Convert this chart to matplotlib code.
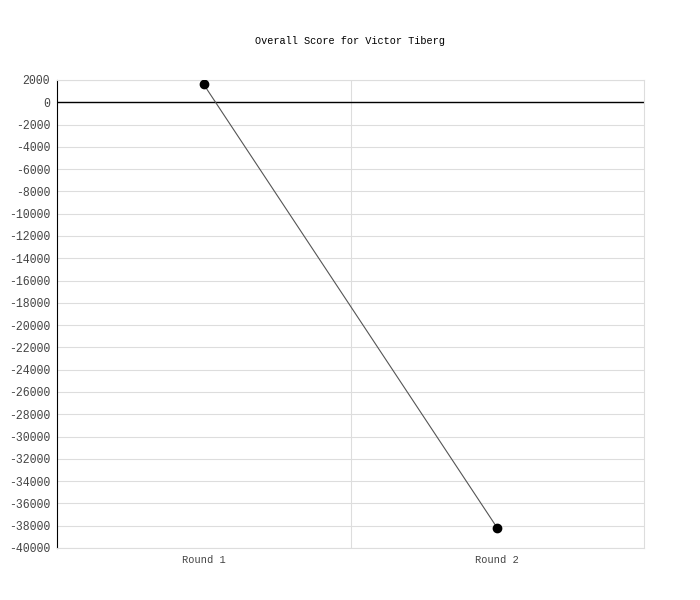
import matplotlib
matplotlib.use("Agg")
import matplotlib.pyplot as plt

# Data
rounds = ["Round 1", "Round 2"]
scores = [1600, -38200]
y_ticks = list(range(-40000, 2001, 2000))
title = "Overall Score for Victor Tiberg"

plt.rcParams['font.family'] = ['Liberation Mono', 'DejaVu Sans Mono']

fig = plt.figure(figsize=(7, 6), dpi=100)
ax = fig.add_axes([57 / 700, 1 - 548 / 600, (644 - 57) / 700, (548 - 80) / 600])

x = list(range(len(rounds)))
ax.plot(x, scores, color='#555555', linewidth=0.8, zorder=3)
ax.plot(x, scores, 'o', color='black', markersize=6, zorder=4)

ax.set_xlim(-0.5, len(rounds) - 0.5)
ax.set_ylim(-40000, 2000)
ax.set_yticks(y_ticks)
ax.set_yticklabels([str(t) for t in y_ticks])
ax.set_xticks(x)
ax.set_xticklabels(rounds)

# grid: horizontal lines and category boundaries
for t in y_ticks:
    ax.axhline(t, color='#dddddd', linewidth=0.8, zorder=1)
for b in [i + 0.5 for i in range(len(rounds) - 1)]:
    ax.axvline(b, color='#dddddd', linewidth=0.8, zorder=1)
ax.axhline(0, color='black', linewidth=1, zorder=2)

for side in ['top', 'right', 'bottom']:
    ax.spines[side].set_color('#dddddd')
ax.spines['left'].set_color('black')

ax.tick_params(axis='y', length=0, labelsize=8.3, colors='#444444', pad=5)
ax.tick_params(axis='x', length=0, labelsize=7.5, colors='#444444', pad=5)

fig.text(350 / 700, 1 - 41 / 600, title, ha='center', va='center', fontsize=7.4, color='black')

fig.savefig("out.png", dpi=100)
